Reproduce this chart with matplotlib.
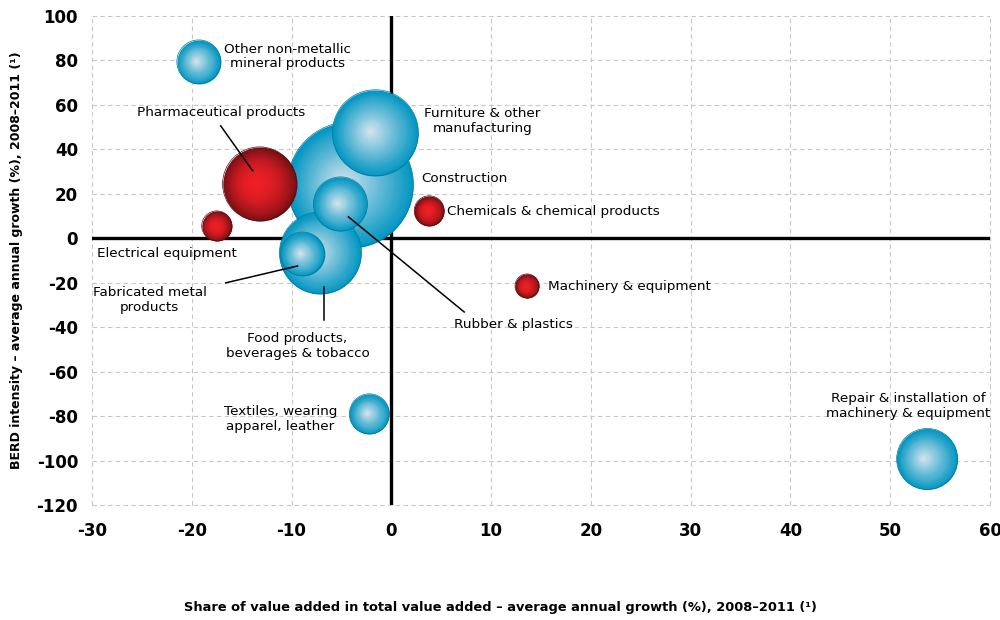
import matplotlib
matplotlib.use("Agg")
import matplotlib.pyplot as plt
import numpy as np

plt.rcParams["axes.unicode_minus"] = False

# sectors: x = share of VA growth, y = BERD intensity growth, w = bubble weight
names = ["Construction", "Furniture & other manufacturing", "Food products, beverages & tobacco",
         "Fabricated metal products", "Rubber & plastics", "Pharmaceutical products",
         "Electrical equipment", "Other non-metallic mineral products", "Chemicals & chemical products",
         "Machinery & equipment", "Textiles, wearing apparel, leather",
         "Repair & installation of machinery & equipment"]
xs = [-4.1, -1.6, -7.1, -8.9, -5.1, -13.2, -17.5, -19.3, 3.8, 13.6, -2.2, 53.7]
ys = [24.0, 47.4, -6.6, -7.1, 15.4, 24.4, 5.5, 79.3, 12.3, -21.5, -79.0, -99.3]
w = [39.7, 18.5, 16.8, 4.8, 7.3, 13.7, 2.25, 4.8, 2.25, 1.44, 4.0, 9.3]
red = [False, False, False, False, False, True, True, False, True, True, False, False]

xticks = [-30, -20, -10, 0, 10, 20, 30, 40, 50, 60]
yticks = [-120, -100, -80, -60, -40, -20, 0, 20, 40, 60, 80, 100]

fig = plt.figure(figsize=(10, 6.2), dpi=100)
ax = fig.add_axes([0.092, 0.1855, 0.898, 0.789])
ax.set_xlim(-30, 60)
ax.set_ylim(-120, 100)

blue_edge = np.array([0, 150, 194]) / 255
blue_mid = np.array([215, 230, 238]) / 255
red_edge = np.array([115, 16, 20]) / 255
red_mid = np.array([238, 30, 38]) / 255

# pixel per data unit (for highlight offset)
pxx = 898 / 90
pxy = 489 / 220

def bubble(x, y, r, edge, mid, p, z):
    n = 70
    for i in range(n):
        t = 1 - i / n  # 1 at rim -> small at centre
        rr = r * t
        c = mid + (edge - mid) * t ** p
        ox = -0.14 * r * (1 - t) / pxx
        oy = 0.04 * r * (1 - t) / pxy
        ax.scatter(x + ox, y + oy, s=(2 * rr * 0.72) ** 2, color=c, linewidths=0,
                   zorder=z)
    ax.scatter(x, y, s=(2 * r * 0.72) ** 2, facecolor="none",
               edgecolor=edge * 0.8, linewidths=0.5, zorder=z)

for i in range(len(xs)):
    r = 10 * np.sqrt(w[i])
    if red[i]:
        bubble(xs[i], ys[i], r, red_edge, red_mid, 2.2, 10 + i)
    else:
        bubble(xs[i], ys[i], r, blue_edge, blue_mid, 1.0, 10 + i)

ax.axhline(0, color="black", lw=2.4, zorder=5)
ax.axvline(0, color="black", lw=2.4, zorder=5)

ax.set_xticks(xticks)
ax.set_yticks(yticks)
ax.grid(True, color="#c8c8c8", linestyle=(0, (4, 3)), linewidth=0.8)
for gl in ax.get_xgridlines() + ax.get_ygridlines():
    gl.set_clip_on(False)
ax.set_axisbelow(True)
for s in ax.spines.values():
    s.set_visible(False)
ax.tick_params(length=0)
ax.tick_params(axis="x", pad=12)
ax.tick_params(axis="y", pad=10)
for lab in ax.get_xticklabels():
    lab.set_fontweight("bold")
    lab.set_fontsize(12)
for lab in ax.get_yticklabels():
    lab.set_fontweight("bold")
    lab.set_fontsize(12)

ax.set_ylabel("BERD intensity – average annual growth (%), 2008–2011 (¹)",
              fontsize=9, fontweight="bold", labelpad=10)
fig.text(0.5, 0.02, "Share of value added in total value added – average annual growth (%), 2008–2011 (¹)",
         ha="center", va="center", fontsize=9.4, fontweight="bold")

fs = 9.7
kw = dict(fontsize=fs, zorder=40, linespacing=1.15)
ax.text(-10.4, 81.6, "Other non-metallic\nmineral products", ha="center", va="center", **kw)
ax.text(-17.1, 56.4, "Pharmaceutical products", ha="center", va="center", **kw)
ax.text(-22.5, -7.1, "Electrical equipment", ha="center", va="center", **kw)
ax.text(-24.2, -27.8, "Fabricated metal\nproducts", ha="center", va="center", **kw)
ax.text(-9.4, -48.4, "Food products,\nbeverages & tobacco", ha="center", va="center", **kw)
ax.text(12.2, -39.0, "Rubber & plastics", ha="center", va="center", **kw)
ax.text(3.0, 26.7, "Construction", ha="left", va="center", **kw)
ax.text(5.6, 11.8, "Chemicals & chemical products", ha="left", va="center", **kw)
ax.text(15.7, -21.9, "Machinery & equipment", ha="left", va="center", **kw)
ax.text(9.1, 52.8, "Furniture & other\nmanufacturing", ha="center", va="center", **kw)
ax.text(-11.1, -81.3, "Textiles, wearing\napparel, leather", ha="center", va="center", **kw)
ax.text(51.8, -75.4, "Repair & installation of\nmachinery & equipment", ha="center", va="center", **kw)

lk = dict(color="black", lw=1.1, zorder=40)
ax.plot([-17.1, -13.9], [50.5, 30.3], **lk)
ax.plot([-16.6, -9.4], [-20.1, -12.5], **lk)
ax.plot([-6.7, -6.7], [-21.9, -36.7], **lk)
ax.plot([-4.3, 7.3], [9.6, -33.2], **lk)

fig.savefig("out.png", dpi=100)
